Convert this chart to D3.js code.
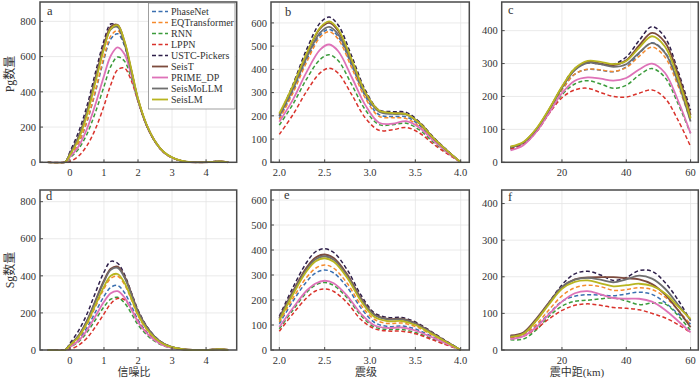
<!DOCTYPE html>
<html>
<head>
<meta charset="utf-8">
<script src="https://cdn.jsdelivr.net/npm/d3@7"></script>
<style>
body { margin: 0; background: #fff; }
svg { display: block; }
text { font-family: "Liberation Serif", "Times New Roman", "Noto Sans CJK SC", serif; fill: #333; }
</style>
</head>
<body>
<svg id="chart" width="700" height="378"></svg>
<script>
//// data

const methods = ['PhaseNet', 'EQTransformer', 'RNN', 'LPPN', 'USTC-Pickers', 'SeisT', 'PRIME_DP', 'SeisMoLLM', 'SeisLM'];
const colors = ['#3a6fb0', '#f58a2c', '#3b9b3b', '#d9322b', '#2e1f4a', '#7d4b3e', '#de72b8', '#6f6f6f', '#b8b520'];
const dashed = [true, true, true, true, true, false, false, false, false];

// x positions of the read points
const snrX = [-0.65, -0.15, 0, 0.25, 0.5, 0.75, 1.0, 1.2, 1.4, 1.6, 1.8, 2.0, 2.25, 2.5, 2.75, 3.0, 3.3, 3.6, 4.0, 4.4, 4.65];
const pgMagX = [2.0, 2.15, 2.3, 2.45, 2.55, 2.65, 2.8, 2.95, 3.1, 3.25, 3.4, 3.55, 3.7, 3.85, 4.0];
const sgMagX = [2.0, 2.15, 2.3, 2.4, 2.5, 2.6, 2.75, 2.9, 3.05, 3.2, 3.35, 3.5, 3.65, 3.8, 4.0];
const distX = [4, 8, 12, 16, 20, 24, 28, 32, 36, 40, 44, 48, 52, 56, 60];

// one row per method, same order as methods
const pgSnr = [
    [0,0,35,108,230,400,585,700,730,665,520,358,213,118,58,27,7,0,0,5,0],
    [0,0,35,110,235,410,600,718,748,675,525,360,214,119,59,27,7,0,0,5,0],
    [0,0,25,75,160,285,430,545,598,575,480,348,210,117,58,27,7,0,0,5,0],
    [0,0,5,35,95,190,320,440,525,535,465,345,208,116,57,26,7,0,0,5,0],
    [0,0,60,170,320,510,690,785,770,670,515,355,210,118,58,27,7,0,0,5,0],
    [0,0,50,145,290,480,665,770,780,685,525,358,213,119,59,27,7,0,0,5,0],
    [0,0,30,90,190,330,490,605,652,615,500,355,212,118,58,27,7,0,0,5,0],
    [0,0,48,140,283,470,650,755,768,675,520,355,212,118,59,27,7,0,0,5,0],
    [0,0,42,128,268,455,645,758,778,690,532,362,216,120,60,28,8,0,0,5,0]
];
const pgMag = [
    [190,305,440,548,572,540,415,283,205,197,195,158,98,47,0],
    [185,298,430,538,562,530,405,275,198,192,188,152,95,45,0],
    [160,250,358,443,463,437,333,225,162,162,168,138,86,41,0],
    [120,205,305,385,405,383,290,190,138,140,150,125,78,37,0],
    [200,335,485,600,625,590,455,310,225,218,215,172,108,52,0],
    [205,325,465,575,600,565,435,298,222,212,208,168,105,50,0],
    [175,270,388,485,507,478,365,245,170,166,177,148,92,44,0],
    [200,315,450,558,583,550,425,292,218,208,205,165,103,49,0],
    [210,330,468,580,607,572,440,300,223,212,207,167,104,50,0]
];
const pgDist = [
    [42,58,98,157,220,268,282,280,275,290,330,363,335,250,138],
    [42,58,98,157,220,268,283,281,276,288,322,350,320,235,126],
    [40,55,93,150,205,238,248,238,225,234,265,285,258,180,88],
    [40,55,92,148,196,220,225,212,200,198,210,220,195,130,48],
    [45,60,100,160,228,285,302,298,298,320,370,412,380,280,158],
    [45,60,100,160,228,282,305,300,295,310,355,393,365,270,144],
    [36,52,92,150,210,248,258,254,248,256,282,300,272,190,88],
    [45,60,100,160,226,280,302,298,290,298,333,362,333,245,124],
    [48,62,102,162,230,285,308,305,298,308,348,383,352,258,134]
];
const sgSnr = [
    [0,0,19,58,121,205,289,338,348,310,240,163,99,55,27,13,4,0,0,4,0],
    [0,0,22,66,138,234,330,386,398,354,274,186,113,63,31,14,4,0,0,4,0],
    [0,0,14,44,95,163,233,274,284,255,199,136,83,46,23,11,3,0,0,4,0],
    [0,0,4,25,65,125,195,250,278,272,222,155,95,52,26,12,3,0,0,4,0],
    [0,0,36,103,194,310,420,478,468,408,312,216,130,72,36,17,5,0,0,4,0],
    [0,0,27,77,158,267,375,438,450,398,307,208,127,70,35,16,5,0,0,4,0],
    [0,0,16,50,107,183,260,306,317,284,221,151,92,51,25,12,3,0,0,4,0],
    [0,0,27,76,156,263,369,432,443,392,303,205,125,69,34,16,4,0,0,4,0],
    [0,0,25,70,144,243,342,400,410,363,280,190,115,64,32,15,4,0,0,4,0]
];
const sgMag = [
    [105,195,273,308,320,308,250,168,110,94,96,84,60,34,0],
    [112,207,290,327,340,327,266,180,122,106,108,94,67,38,0],
    [85,160,230,260,270,258,208,138,92,82,82,70,50,28,0],
    [75,145,208,236,244,234,188,122,85,76,75,65,46,26,0],
    [135,250,350,393,405,390,320,220,148,130,130,112,80,45,0],
    [128,235,330,370,382,368,302,208,142,124,125,108,77,43,0],
    [92,168,237,266,277,267,216,145,98,88,90,78,56,32,0],
    [125,230,323,363,375,361,296,204,140,122,123,106,75,42,0],
    [118,222,315,355,367,353,288,196,132,115,116,100,71,40,0]
];
const sgDist = [
    [35,40,65,100,133,147,151,150,148,153,158,152,130,100,71],
    [35,42,70,110,148,170,177,173,163,165,170,165,145,110,69],
    [28,30,55,92,120,133,136,140,142,134,124,128,126,95,53],
    [33,38,58,85,108,122,126,122,116,114,110,100,88,70,48],
    [38,45,80,130,178,208,215,205,190,198,217,215,185,138,80],
    [40,48,85,130,172,193,198,199,199,196,193,180,152,110,62],
    [30,38,62,98,132,155,161,152,142,140,140,132,110,80,48],
    [37,45,82,128,172,192,197,192,185,193,203,195,168,125,82],
    [36,44,80,125,167,186,190,182,174,177,181,175,155,120,85]
];

const snrTicks = [0, 1, 2, 3, 4];
const magTicks = [2.0, 2.5, 3.0, 3.5, 4.0];
const distTicks = [20, 40, 60];


//// layout

const svg = d3.select('#chart');
const frameColor = '#4a4a4a';
const gridColor = '#e4e4e4';

const panels = [
    {letter:'a', rows:pgSnr, xs:snrX, box:[40,2,236.7,162.3], xDom:[-0.88,4.9], yDom:[0,910], xt:snrTicks, yt:[0,200,400,600,800], fmt:d3.format('d'), lp:[47,15]},
    {letter:'b', rows:pgMag, xs:pgMagX, box:[271,2,469.3,162.3], xDom:[1.908,4.095], yDom:[0,690], xt:magTicks, yt:[0,100,200,300,400,500,600], fmt:d3.format('.1f'), lp:[285,16]},
    {letter:'c', rows:pgDist, xs:distX, box:[501.7,2,698.3,162.3], xDom:[1.26,62.4], yDom:[0,487], xt:distTicks, yt:[0,100,200,300,400], fmt:d3.format('d'), lp:[508,14]},
    {letter:'d', rows:sgSnr, xs:snrX, box:[40,190,236.7,350], xDom:[-0.88,4.9], yDom:[0,863], xt:snrTicks, yt:[0,200,400,600,800], fmt:d3.format('d'), lp:[46,200]},
    {letter:'e', rows:sgMag, xs:sgMagX, box:[271,190,469.3,350], xDom:[1.908,4.095], yDom:[0,640], xt:magTicks, yt:[0,100,200,300,400,500,600], fmt:d3.format('.1f'), lp:[284,199]},
    {letter:'f', rows:sgDist, xs:distX, box:[501.7,190,698.3,350], xDom:[1.26,62.4], yDom:[0,437], xt:distTicks, yt:[0,100,200,300,400], fmt:d3.format('d'), lp:[508,201]}
];

const defs = svg.append('defs');

panels.forEach((p, i) => {
    const [x0, y0, x1, y1] = p.box;
    const x = d3.scaleLinear().domain(p.xDom).range([x0, x1]);
    const y = d3.scaleLinear().domain(p.yDom).range([y1, y0]);
    const g = svg.append('g');

    // grid
    g.selectAll('.vgrid').data(p.xt).enter().append('line')
        .attr('x1', d => x(d)).attr('x2', d => x(d))
        .attr('y1', y0).attr('y2', y1)
        .style('stroke', gridColor).style('stroke-width', 0.8);
    g.selectAll('.hgrid').data(p.yt).enter().append('line')
        .attr('x1', x0).attr('x2', x1)
        .attr('y1', d => y(d)).attr('y2', d => y(d))
        .style('stroke', gridColor).style('stroke-width', 0.8);

    // curves
    defs.append('clipPath').attr('id', 'clip' + i)
        .append('rect').attr('x', x0).attr('y', y0).attr('width', x1 - x0).attr('height', y1 - y0 + 1);
    const line = d3.line()
        .x((d, j) => x(p.xs[j]))
        .y(d => y(d))
        .curve(d3.curveCatmullRom.alpha(0.5));
    const plot = g.append('g').attr('clip-path', `url(#clip${i})`);
    p.rows.forEach((row, k) => {
        plot.append('path')
            .attr('d', line(row))
            .style('fill', 'none')
            .style('stroke', colors[k])
            .style('stroke-width', dashed[k] ? 1.5 : 1.8)
            .style('stroke-dasharray', dashed[k] ? '4,2.5' : null);
    });

    // frame
    g.append('rect')
        .attr('x', x0).attr('y', y0).attr('width', x1 - x0).attr('height', y1 - y0)
        .style('fill', 'none').style('stroke', frameColor).style('stroke-width', 1.5);

    // ticks + labels
    g.selectAll('.yt').data(p.yt).enter().append('line')
        .attr('x1', x0).attr('x2', x0 + 3)
        .attr('y1', d => y(d)).attr('y2', d => y(d))
        .style('stroke', frameColor);
    g.selectAll('.xt').data(p.xt).enter().append('line')
        .attr('x1', d => x(d)).attr('x2', d => x(d))
        .attr('y1', y1).attr('y2', y1 - 3)
        .style('stroke', frameColor);
    g.selectAll('.ylab').data(p.yt).enter().append('text')
        .attr('x', x0 - 4).attr('y', d => y(d)).attr('dy', '0.35em')
        .attr('text-anchor', 'end').style('font-size', '10.5px')
        .text(d => d);
    g.selectAll('.xlab').data(p.xt).enter().append('text')
        .attr('x', d => x(d)).attr('y', y1 + 10).attr('dy', '0.35em')
        .attr('text-anchor', 'middle').style('font-size', '10.5px')
        .text(d => p.fmt(d));

    g.append('text')
        .attr('x', p.lp[0]).attr('y', p.lp[1])
        .style('font-size', '12.5px')
        .text(p.letter);
});

// axis titles
svg.append('text').attr('transform', 'translate(14,74) rotate(-90)')
    .attr('text-anchor', 'middle').style('font-size', '12px').text('Pg数量');
svg.append('text').attr('transform', 'translate(14,270) rotate(-90)')
    .attr('text-anchor', 'middle').style('font-size', '12px').text('Sg数量');
svg.append('text').attr('x', 134).attr('y', 372).attr('dy', '0.35em')
    .attr('text-anchor', 'middle').style('font-size', '11px').text('信噪比');
svg.append('text').attr('x', 366).attr('y', 372).attr('dy', '0.35em')
    .attr('text-anchor', 'middle').style('font-size', '11px').text('震级');
svg.append('text').attr('x', 577).attr('y', 372).attr('dy', '0.35em')
    .attr('text-anchor', 'middle').style('font-size', '11px').text('震中距(km)');

// legend in panel a
const leg = svg.append('g');
leg.append('rect')
    .attr('x', 148.5).attr('y', 3).attr('width', 86.5).attr('height', 106)
    .style('fill', '#fff').style('stroke', '#888').style('stroke-width', 0.8);
methods.forEach((m, k) => {
    const yy = 11.5 + k * 11;
    leg.append('line')
        .attr('x1', 152).attr('x2', 168).attr('y1', yy).attr('y2', yy)
        .style('stroke', colors[k])
        .style('stroke-width', dashed[k] ? 1.5 : 1.8)
        .style('stroke-dasharray', dashed[k] ? '4,2.5' : null);
    leg.append('text')
        .attr('x', 171).attr('y', yy).attr('dy', '0.35em')
        .style('font-size', '10px')
        .text(m);
});
</script>
</body>
</html>
